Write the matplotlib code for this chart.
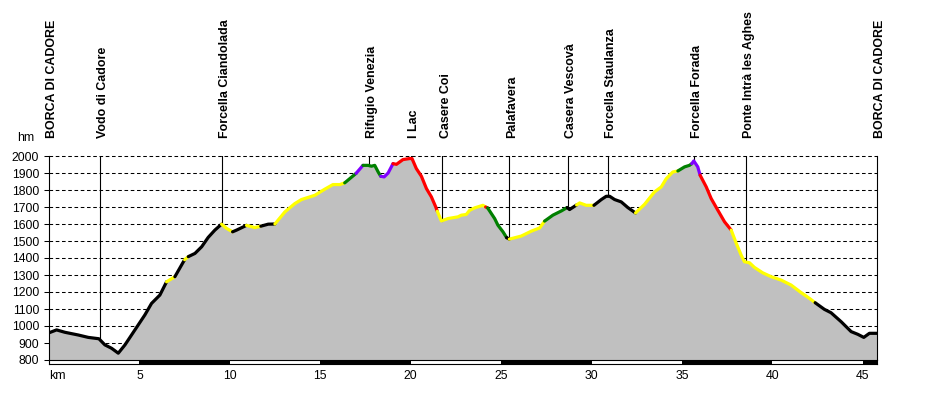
import numpy as np
import matplotlib
matplotlib.use("Agg")
import matplotlib.pyplot as plt

plt.rcParams['font.family'] = ['Liberation Sans', 'DejaVu Sans']
plt.rcParams['lines.scale_dashes'] = False

# ---- data ----
dist = [0.0, 0.42, 0.88, 1.62, 2.17, 2.76, 3.09, 3.46, 3.83, 4.2, 4.75, 5.3, 5.67, 6.13,
        6.5, 6.96, 7.40, 7.50, 7.70, 8.07, 8.44, 8.8, 9.17, 9.54, 9.82, 10.15, 10.37, 10.92,
        11.38, 11.71, 12.12, 12.49, 13.04, 13.59, 13.96, 14.7, 15.25, 15.7, 16.08, 16.35,
        16.98, 17.36, 17.64, 17.83, 18.01, 18.2, 18.34, 18.53, 18.75, 19.02, 19.21, 19.57,
        19.94, 20.07, 20.31, 20.59, 20.87, 21.14, 21.38, 21.47, 21.69, 22.06, 22.61, 22.8,
        23.07, 23.26, 23.54, 23.99, 24.14, 24.25, 24.64, 24.82, 25.1, 25.3, 25.45, 26.11,
        26.67, 27.13, 27.4, 27.86, 28.33, 28.65, 28.78, 29.17, 29.34, 29.7, 30.13, 30.54,
        30.81, 31.0, 31.27, 31.64, 32.0, 32.43, 32.93, 33.48, 33.85, 34.13, 34.49, 34.77,
        35.14, 35.41, 35.54, 35.65, 35.87, 36.0, 36.34, 36.61, 36.98, 37.35, 37.72, 38.0,
        38.27, 38.45, 38.73, 39.0, 39.46, 39.93, 40.48, 41.03, 41.59, 42.04, 42.36, 42.87,
        43.24, 43.8, 44.35, 44.72, 45.05, 45.36, 45.78]
elev = [960, 977, 963, 947, 933, 925, 889, 869, 840, 889, 977, 1065, 1133, 1182,
        1260, 1290, 1372, 1390, 1408, 1427, 1466, 1521, 1564, 1599, 1574, 1554, 1564, 1592,
        1579, 1587, 1599, 1600, 1671, 1720, 1744, 1769, 1805, 1832, 1832, 1842,
        1898, 1945, 1945, 1940, 1945, 1906, 1881, 1877, 1900, 1955, 1951, 1979,
        1985, 1985, 1926, 1881, 1808, 1760, 1701, 1675, 1618, 1632, 1642, 1652,
        1656, 1681, 1695, 1710, 1700, 1695, 1632, 1593, 1554, 1520, 1511, 1529,
        1558, 1577, 1617, 1652, 1677, 1697, 1685, 1712, 1724, 1710, 1710, 1744,
        1763, 1763, 1744, 1730, 1697, 1665, 1716, 1789, 1818, 1867, 1906, 1912,
        1936, 1945, 1955, 1971, 1936, 1887, 1818, 1750, 1681, 1613, 1564, 1486,
        1417, 1378, 1372, 1345, 1313, 1290, 1270, 1241, 1196, 1163, 1137, 1098,
        1078, 1025, 967, 951, 933, 957, 957]
# difficulty colour runs along the profile: (code, number of segments)
seg_runs = [('k', 14), ('y', 1), ('k', 2), ('y', 1), ('k', 5), ('y', 2), ('k', 2), ('y', 2),
            ('k', 2), ('y', 8), ('g', 1), ('p', 1), ('g', 5), ('p', 3), ('r', 10), ('y', 9),
            ('r', 1), ('g', 4), ('k', 1), ('y', 4), ('g', 3), ('k', 2), ('y', 3), ('k', 7),
            ('y', 6), ('g', 3), ('p', 3), ('r', 5), ('y', 12), ('k', 8)]
code_colors = {'k': '#000000', 'y': '#ffff00', 'g': '#008000', 'p': '#8000ff', 'r': '#ff0000'}

waypoints = ['BORCA DI CADORE', 'Vodo di Cadore', 'Forcella Ciandolada', 'Rifugio Venezia',
             'I Lac', 'Casere Coi', 'Palafavera', 'Casera Vescovà', 'Forcella Staulanza',
             'Forcella Forada', 'Ponte Intrà les Aghes', 'BORCA DI CADORE']
waypoint_km = [0.0, 2.82, 9.57, 17.70, 20.0, 21.75, 25.43, 28.71, 30.90, 35.65, 38.55, 45.78]

y_ticks = list(range(800, 2001, 100))
x_ticks = [0, 5, 10, 15, 20, 25, 30, 35, 40, 45]
x_labels = ['km', '5', '10', '15', '20', '25', '30', '35', '40', '45']
bar_black = [(5, 5), (15, 5), (25, 5), (35, 5), (45, 0.78)]

# ---- figure ----
W, H = 927, 400
fig = plt.figure(figsize=(W / 100, H / 100), dpi=100)
ax = fig.add_axes([49 / W, 40 / H, 828 / W, 204 / H])
xmax = dist[-1]
ax.set_xlim(0, xmax)
ax.set_ylim(800, 2000)

# grid
for yv in y_ticks[1:]:
    ax.plot([0, xmax], [yv, yv], color='black', lw=0.75, linestyle=(0, (2.6, 1.9)),
            zorder=0.5, clip_on=False)

ax.fill_between(dist, 800, elev, color='#c0c0c0', lw=0, zorder=1)

# waypoint lines
for km in waypoint_km[1:-1]:
    e = np.interp(km, dist, elev)
    ax.plot([km, km], [e, 2000], color='black', lw=0.8, zorder=1.5)

# profile
i0 = 0
for code, n in seg_runs:
    ax.plot(dist[i0:i0 + n + 1], elev[i0:i0 + n + 1], color=code_colors[code], lw=2.3,
            solid_capstyle='round', solid_joinstyle='round', zorder=3)
    i0 += n

for s in ['top', 'bottom']:
    ax.spines[s].set_visible(False)
for s in ['left', 'right']:
    ax.spines[s].set_linewidth(0.8)
ax.set_yticks(y_ticks)
ax.set_yticklabels([str(v) for v in y_ticks], fontsize=8.8)
ax.tick_params(axis='y', length=3.6, width=0.75, pad=3.5)
ax.set_xticks([])

# waypoint labels
for name, km in zip(waypoints, waypoint_km):
    ax.annotate(name, xy=(km, 1.088), xycoords=('data', 'axes fraction'),
                xytext=(2.3, 0), textcoords='offset points', rotation=90,
                ha='center', va='bottom', fontsize=8.9, fontweight='bold',
                annotation_clip=False)

fig.text(17 / W, 1 - 138 / H, 'hm', fontsize=8.8, ha='left', va='center')

# km bar
bax = fig.add_axes([49 / W, 36 / H, 828 / W, 4 / H])
bax.set_xlim(0, xmax)
bax.set_ylim(0, 1)
bax.broken_barh(bar_black, (0, 1), facecolor='black')
bax.set_yticks([])
bax.set_xticks(x_ticks)
bax.set_xticklabels(x_labels, fontsize=8.8)
bax.get_xticklabels()[0].set_ha('left')
bax.tick_params(axis='x', length=0, pad=4)
for s in bax.spines.values():
    s.set_linewidth(0.8)

fig.savefig('out.png', dpi=100)
